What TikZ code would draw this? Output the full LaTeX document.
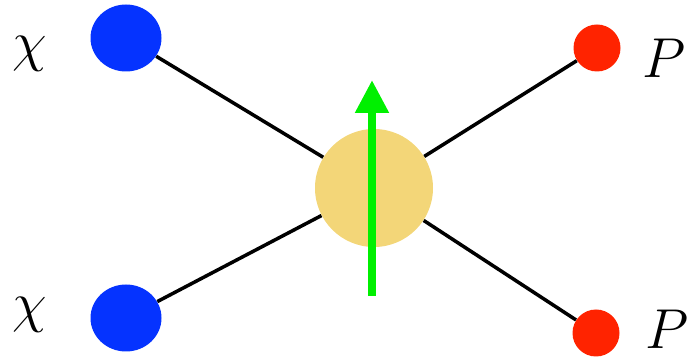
\RequirePackage{fix-cm}
\documentclass[tikz,border=0pt]{standalone}
\usetikzlibrary{shapes.geometric, arrows.meta}
\definecolor{dmblue}{RGB}{5,51,255}
\definecolor{smred}{RGB}{255,35,0}
\definecolor{blobyellow}{RGB}{243,214,120}
\definecolor{spingreen}{RGB}{0,240,0}

\begin{document}
\begin{tikzpicture}[
        dm/.style={ellipse, fill=dmblue, minimum width=1.42cm, minimum height=1.34cm, inner sep=0pt},
        sm/.style={circle, fill=smred, minimum size=0.94cm, inner sep=0pt},
        vertex/.style={circle, fill=blobyellow, minimum size=2.36cm, inner sep=0pt},
        leg/.style={line width=2pt, black},
        lbl/.style={font=\fontsize{32}{38}\selectfont, inner sep=0pt},
        spin/.style={-{Triangle[length=0.66cm, width=0.64cm]}, line width=0.16cm, draw=spingreen}
    ]
        \useasboundingbox (0,0) rectangle (14,7.16);

        \node[vertex] (blob) at (7.48,3.40) {};
        \node[dm] (chi1) at (2.52,6.40) {};
        \node[dm] (chi2) at (2.52,0.80) {};
        \node[sm] (p1) at (11.94,6.20) {};
        \node[sm] (p2) at (11.92,0.50) {};

        \node[lbl] (lchi1) at (0.60,6.08) {$\chi$};
        \node[lbl] (lchi2) at (0.60,0.86) {$\chi$};
        \node[lbl] (lp1) at (13.28,6.00) {$P$};
        \node[lbl] (lp2) at (13.34,0.58) {$P$};

        \draw[leg] (chi1) -- (blob);
        \draw[leg] (chi2) -- (blob);
        \draw[leg] (blob) -- (p1);
        \draw[leg] (blob) -- (p2);

        % spin direction
        \coordinate (spintail) at (7.44,1.24);
        \coordinate (spinhead) at (7.44,5.56);
        \draw[spin] (spintail) -- (spinhead);
    \end{tikzpicture}
\end{document}
